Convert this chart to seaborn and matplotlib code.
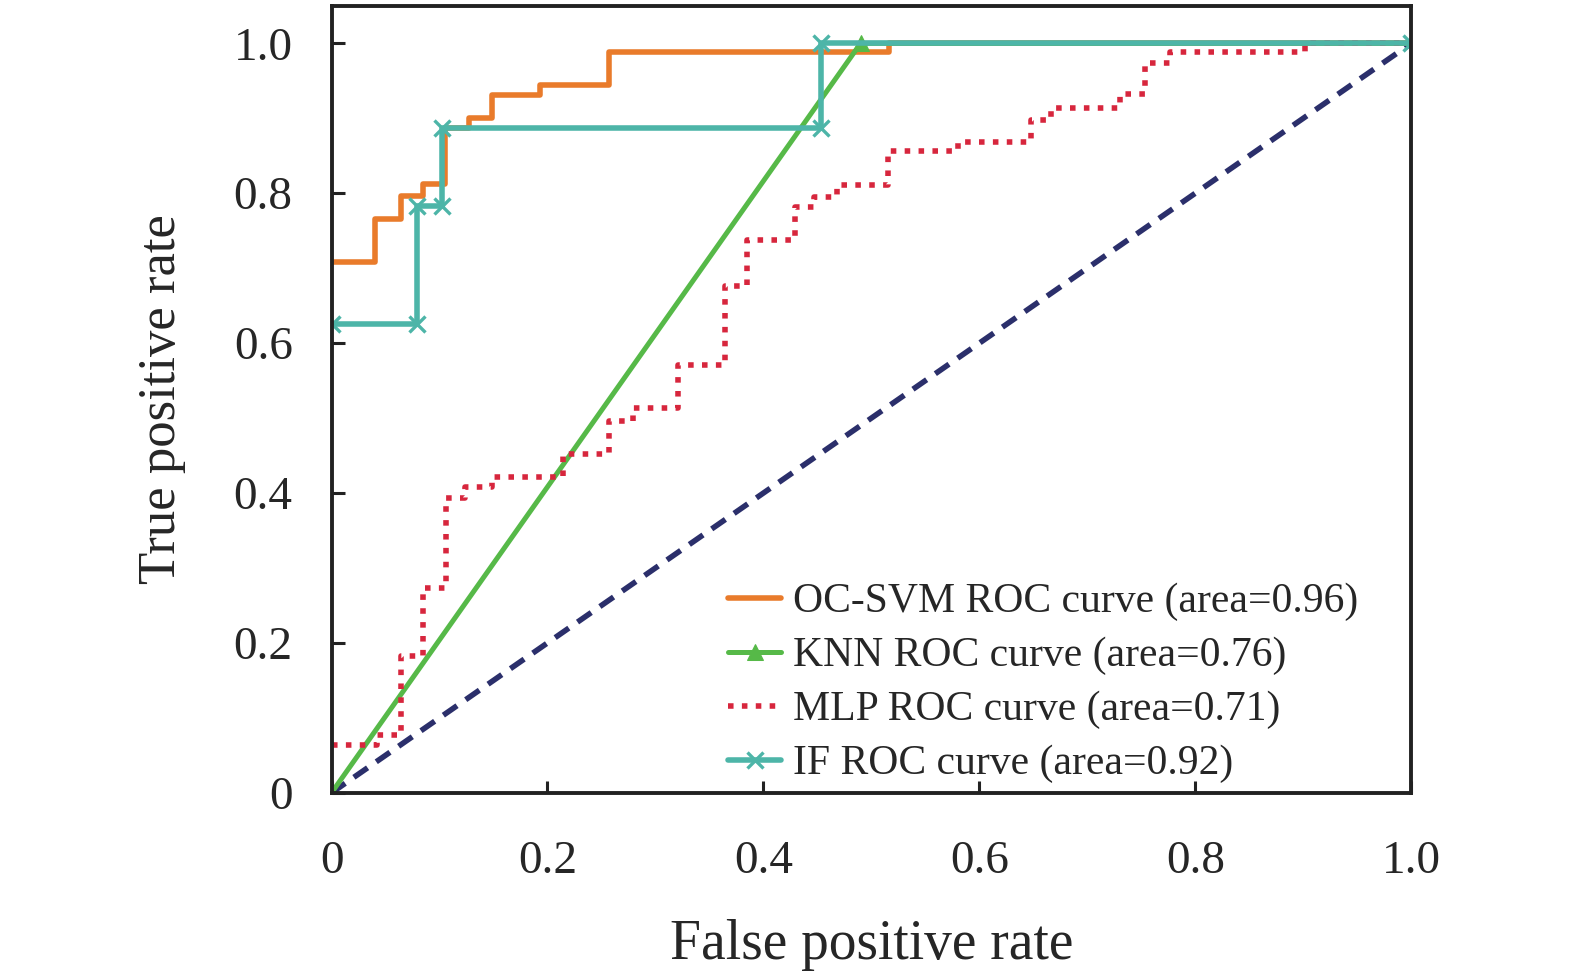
import numpy as np
import pandas as pd
import seaborn as sns
import matplotlib
matplotlib.use("Agg")
import matplotlib.pyplot as plt

sns.set_style("ticks")
plt.rcParams["font.family"] = ["Liberation Serif", "DejaVu Serif"]

# step breakpoints (fpr) and tpr level held between them
ocsvm_fpr = [0, 0.040, 0.064, 0.085, 0.105, 0.127, 0.149, 0.193, 0.257, 0.516, 1.0]
ocsvm_tpr = [0.708, 0.766, 0.796, 0.813, 0.887, 0.901, 0.931, 0.944, 0.989, 1.0]

knn_fpr = [0, 0.49, 1.0]
knn_tpr = [0, 1.0, 1.0]

mlp_fpr = [0, 0.042, 0.064, 0.085, 0.106, 0.124, 0.149, 0.214, 0.257, 0.279, 0.321, 0.364,
           0.385, 0.429, 0.447, 0.468, 0.515, 0.580, 0.648, 0.666, 0.730, 0.753, 0.777, 0.902, 1.0]
mlp_tpr = [0.064, 0.077, 0.183, 0.273, 0.394, 0.408, 0.422, 0.452, 0.496, 0.513, 0.571,
           0.676, 0.737, 0.782, 0.795, 0.811, 0.856, 0.869, 0.898, 0.914, 0.932, 0.974, 0.989, 1.0]

if_fpr = [0, 0.079, 0.102, 0.453, 1.0]
if_tpr = [0.625, 0.783, 0.887, 1.0]

labels = ["OC-SVM ROC curve (area=0.96)", "KNN ROC curve (area=0.76)",
          "MLP ROC curve (area=0.71)", "IF ROC curve (area=0.92)"]
ticks = [0, 0.2, 0.4, 0.6, 0.8, 1.0]
tick_labels = ["0", "0.2", "0.4", "0.6", "0.8", "1.0"]


def stairs(xs, ys):
    # turn breakpoints + levels into the corner points of a roc staircase
    px, py = [], []
    for i, y in enumerate(ys):
        px += [xs[i], xs[i + 1]]
        py += [y, y]
    return pd.DataFrame({"fpr": px, "tpr": py})


fig = plt.figure(figsize=(15.75, 9.8), dpi=100)
ax = fig.add_axes([0.2105, 0.191, 0.6855, 0.803])

sns.lineplot(x=[0, 1], y=[0, 1], ax=ax, color="#2B2F6B", lw=4.0,
             linestyle=(0, (3, 1.9)), sort=False, estimator=None)

df = stairs(ocsvm_fpr, ocsvm_tpr)
sns.lineplot(data=df, x="fpr", y="tpr", ax=ax, color="#E97B2B", lw=4.0,
             sort=False, estimator=None, label=labels[0])

sns.lineplot(x=knn_fpr, y=knn_tpr, ax=ax, color="#56B948", lw=3.6,
             marker="^", markersize=12, markeredgecolor="#56B948", markevery=[1],
             sort=False, estimator=None, label=labels[1])

df = stairs(mlp_fpr, mlp_tpr)
sns.lineplot(data=df, x="fpr", y="tpr", ax=ax, color="#D7263D", lw=4.0,
             linestyle=(0, (1, 1.5)), sort=False, estimator=None, label=labels[2])

df = stairs(if_fpr, if_tpr)
sns.lineplot(data=df, x="fpr", y="tpr", ax=ax, color="#4DB5A8", lw=4.0,
             marker="x", markersize=12, markeredgewidth=2.4, markeredgecolor="#4DB5A8",
             sort=False, estimator=None, label=labels[3])

ax.set_xlim(0, 1.0)
ax.set_ylim(0, 1.05)
ax.set_xticks(ticks)
ax.set_xticklabels(tick_labels)
ax.set_yticks(ticks)
ax.set_yticklabels(tick_labels)
ax.tick_params(direction="in", length=9, width=2.2, labelsize=34, pad=28, color="#222222")
ax.tick_params(axis="x", pad=34)
for s in ax.spines.values():
    s.set_linewidth(2.8)
    s.set_color("#222222")

ax.set_xlabel("False positive rate", fontsize=40, labelpad=26)
ax.set_ylabel("True positive rate", fontsize=38, labelpad=34)

ax.legend(loc="lower right", bbox_to_anchor=(0.955, 0.007), frameon=False, fontsize=30,
          handlelength=1.27, handletextpad=0.29, labelspacing=0.37, borderaxespad=0.1,
          borderpad=0.0)

fig.savefig("out.png", dpi=100)
